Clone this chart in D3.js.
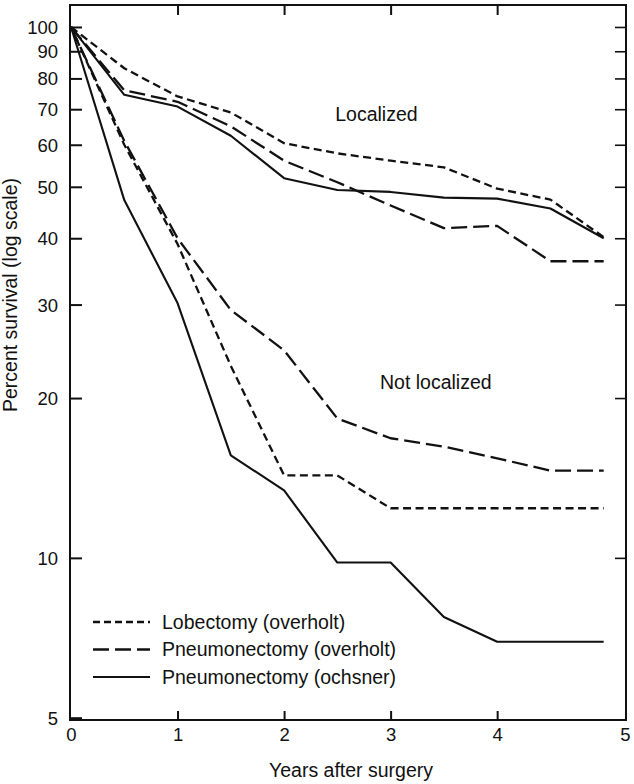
<!DOCTYPE html>
<html>
<head>
<meta charset="utf-8">
<script src="https://cdn.jsdelivr.net/npm/d3@7"></script>
<style>
  html, body { margin: 0; padding: 0; background: #fff; }
  svg { display: block; }
  text { font-family: "Liberation Sans", Arial, Helvetica, sans-serif; fill: #111; }
</style>
</head>
<body>
<svg id="chart" width="634" height="784"></svg>
<script>
// ---- data ----
const years = [0, 0.5, 1, 1.5, 2, 2.5, 3, 3.5, 4, 4.5, 5];

const locLobectomyOverholt     = [100, 83.6, 74, 69, 60.4, 57.8, 56, 54.4, 49.6, 47.3, 40.2];
const locPneumonectomyOverholt = [100, 76, 72.3, 65, 56, 51, 46.1, 41.8, 42.2, 36.2, 36.2];
const locPneumonectomyOchsner  = [100, 74.5, 70.8, 62.4, 51.9, 49.3, 48.9, 47.7, 47.5, 45.5, 40.0];

const nlLobectomyOverholt      = [100, 60, 39, 23, 14.3, 14.3, 12.4, 12.4, 12.4, 12.4, 12.4];
const nlPneumonectomyOverholt  = [100, 61, 40, 29.3, 24.6, 18.3, 16.8, 16.2, 15.4, 14.6, 14.6];
const nlPneumonectomyOchsner   = [100, 47.2, 30.2, 15.6, 13.4, 9.8, 9.8, 7.74, 6.95, 6.95, 6.95];

const seriesNames = ["Lobectomy (overholt)", "Pneumonectomy (overholt)", "Pneumonectomy (ochsner)"];
const groupLabels = ["Localized", "Not localized"];

const yTickValues = [5, 10, 20, 30, 40, 50, 60, 70, 80, 90, 100];
const xTickValues = [0, 1, 2, 3, 4, 5.2];
const xTickLabels = ["0", "1", "2", "3", "4", "5"];
const xTitle = "Years after surgery";
const yTitle = "Percent survival (log scale)";

// ---- layout ----
const svg = d3.select("#chart");
const L = 70, R = 626, T = 5, B = 720;
const x = d3.scaleLinear().domain([0, 5.2]).range([71, 625]);
const y = d3.scaleLog().domain([4.95, 110]).range([B, T]);

const styles = [
  { dash: "8,4.5", width: 2.3 },
  { dash: "16,6", width: 2.3 },
  { dash: null, width: 2.1 }
];

// frame
svg.append("rect").attr("x", L).attr("y", T).attr("width", R - L).attr("height", B - T)
  .attr("fill", "none").attr("stroke", "#111").attr("stroke-width", 2);

// left axis (ticks inward)
const fmt = d => String(d);
const gl = svg.append("g").attr("transform", `translate(${L},0)`)
  .call(d3.axisRight(y).tickValues(yTickValues).tickFormat(fmt).tickSize(12));
gl.select(".domain").remove();
gl.selectAll(".tick line").attr("stroke", "#111").attr("stroke-width", 2);
gl.selectAll(".tick text").attr("x", -12).attr("text-anchor", "end")
  .attr("font-size", 18.5).attr("dy", "0.35em");

// right axis ticks (inward)
const gr = svg.append("g").attr("transform", `translate(${R},0)`)
  .call(d3.axisLeft(y).tickValues(yTickValues.filter(v => v > 5)).tickFormat("").tickSize(11));
gr.select(".domain").remove();
gr.selectAll(".tick line").attr("stroke", "#111").attr("stroke-width", 1.6);

// bottom axis
const gb = svg.append("g").attr("transform", `translate(0,${B})`)
  .call(d3.axisTop(x).tickValues(xTickValues).tickFormat((d, i) => xTickLabels[i]).tickSize(9));
gb.select(".domain").remove();
gb.selectAll(".tick line").attr("stroke", "#111").attr("stroke-width", 2)
  .attr("opacity", d => (d > 0 && d < 5) ? 1 : 0);
gb.selectAll(".tick text").attr("y", 8).attr("dy", "0.71em").attr("font-size", 18.5);

// top axis ticks
const gt = svg.append("g").attr("transform", `translate(0,${T})`)
  .call(d3.axisBottom(x).tickValues(xTickValues.filter(d => d > 0 && d < 5)).tickFormat("").tickSize(10));
gt.select(".domain").remove();
gt.selectAll(".tick line").attr("stroke", "#111").attr("stroke-width", 2);

// titles
svg.append("text").attr("x", 351).attr("y", 777).attr("text-anchor", "middle")
  .attr("font-size", 19.5).text(xTitle);
svg.append("text").attr("transform", `translate(17,${295}) rotate(-90)`).attr("text-anchor", "middle")
  .attr("font-size", 19.5).text(yTitle);

// lines
const line = d3.line().x((d, i) => x(years[i])).y(d => y(d));
const allSeries = [
  [locLobectomyOverholt, 0], [locPneumonectomyOverholt, 1], [locPneumonectomyOchsner, 2],
  [nlLobectomyOverholt, 0], [nlPneumonectomyOverholt, 1], [nlPneumonectomyOchsner, 2]
];
allSeries.forEach(([vals, s]) => {
  svg.append("path").datum(vals).attr("d", line)
    .attr("fill", "none").attr("stroke", "#111")
    .attr("stroke-width", styles[s].width)
    .attr("stroke-dasharray", styles[s].dash)
    .attr("stroke-linejoin", "round");
});

// group labels
svg.append("text").attr("x", x(2.48)).attr("y", y(66.5)).attr("font-size", 19.5).text(groupLabels[0]);
svg.append("text").attr("x", x(2.9)).attr("y", y(20.8)).attr("font-size", 19.5).text(groupLabels[1]);

// legend
const lg = svg.append("g").attr("transform", "translate(93,622)");
seriesNames.forEach((name, i) => {
  const g = lg.append("g").attr("transform", `translate(0,${i * 27.5})`);
  g.append("line").attr("x1", 0).attr("x2", 57).attr("y1", 0).attr("y2", 0)
    .attr("stroke", "#111").attr("stroke-width", styles[i].width)
    .attr("stroke-dasharray", i === 0 ? "7,4" : styles[i].dash);
  g.append("text").attr("x", 69).attr("y", 0).attr("dy", "0.35em").attr("font-size", 19.5).text(name);
});
</script>
</body>
</html>
